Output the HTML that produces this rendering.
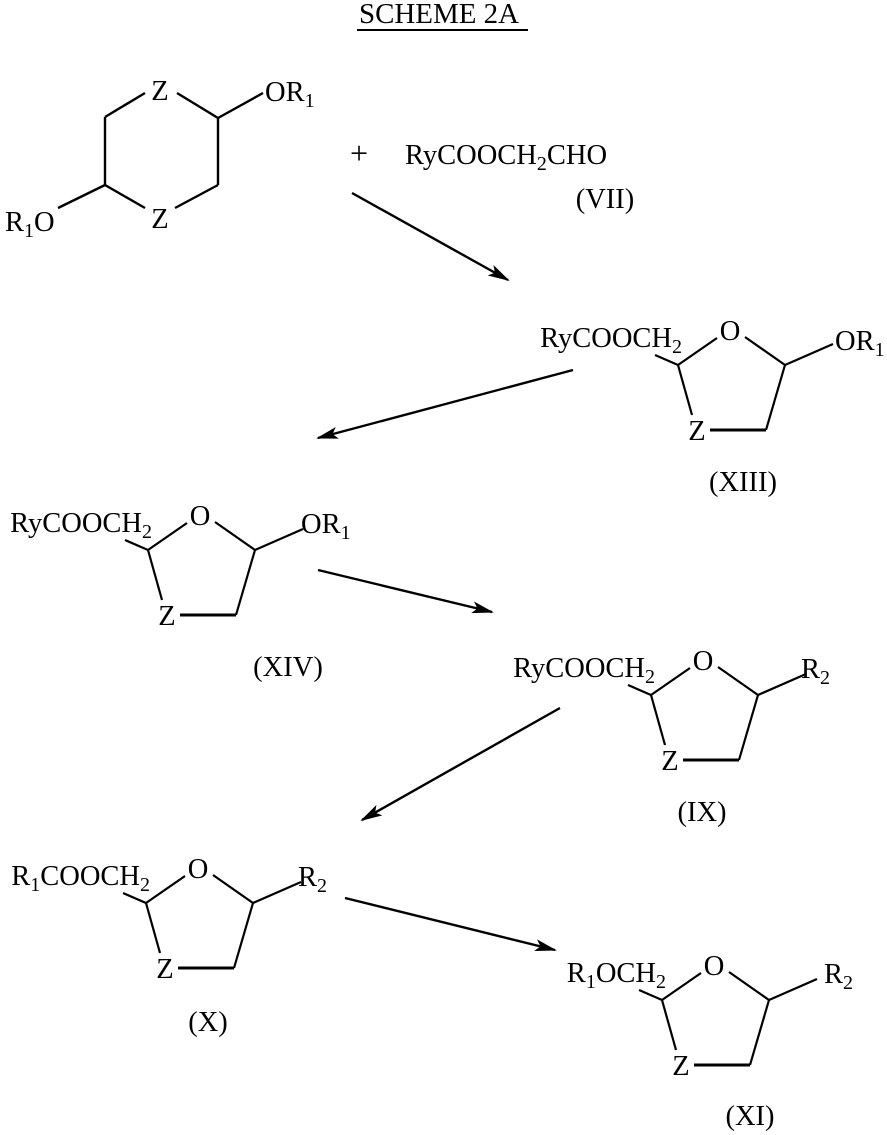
<!DOCTYPE html>
<html><head><style>html,body{margin:0;padding:0;background:#fff;}svg{display:block}</style></head>
<body>
<svg width="887" height="1135" viewBox="0 0 887 1135" xmlns="http://www.w3.org/2000/svg" font-family="Liberation Serif, serif" font-size="28.5" fill="#000">
<defs>
<marker id="ah" markerWidth="22" markerHeight="12" refX="20" refY="6" orient="auto" markerUnits="userSpaceOnUse">
<path d="M0,0 L22,6 L0,12 L5,6 Z" fill="#000"/>
</marker>
<g id="ring" stroke="#000" stroke-width="2.2" fill="none">
<line x1="-23" y1="-10" x2="0" y2="0"/>
<line x1="0" y1="0" x2="39" y2="-27"/>
<line x1="67" y1="-28" x2="107" y2="0"/>
<line x1="107" y1="0" x2="88" y2="65"/>
<line x1="88" y1="65" x2="32" y2="65" stroke-width="3"/>
<line x1="0" y1="0" x2="14" y2="50"/>
<line x1="107" y1="0" x2="155" y2="-21"/>
</g>
</defs>

<text x="359" y="23" textLength="160" lengthAdjust="spacingAndGlyphs">SCHEME 2A</text>
<line x1="357" y1="30" x2="528" y2="30" stroke="#000" stroke-width="2"/>

<g stroke="#000" stroke-width="2.4" fill="none">
<line x1="145" y1="93" x2="105" y2="117"/>
<line x1="105" y1="117" x2="105" y2="185"/>
<line x1="105" y1="185" x2="145" y2="208"/>
<line x1="175" y1="208" x2="218" y2="185"/>
<line x1="218" y1="185" x2="218" y2="118"/>
<line x1="218" y1="118" x2="177" y2="93"/>
<line x1="218" y1="118" x2="263" y2="93"/>
<line x1="105" y1="185" x2="58" y2="208"/>
</g>
<text x="160" y="100" text-anchor="middle">Z</text>
<text x="160" y="228" text-anchor="middle">Z</text>
<text x="265" y="101">OR<tspan font-size="20" dy="6">1</tspan></text>
<text x="5" y="231">R<tspan font-size="20" dy="6">1</tspan><tspan dy="-6">O</tspan></text>

<text x="350" y="164" font-size="32">+</text>
<text x="405" y="164">RyCOOCH<tspan font-size="20" dy="6">2</tspan><tspan dy="-6">CHO</tspan></text>
<text x="605" y="208" text-anchor="middle">(VII)</text>

<g stroke="#000" stroke-width="2.4" marker-end="url(#ah)">
<line x1="352" y1="193" x2="508" y2="280"/>
<line x1="573" y1="370" x2="318" y2="438"/>
<line x1="318" y1="570" x2="492" y2="612"/>
<line x1="560" y1="708" x2="362" y2="820"/>
<line x1="345" y1="898" x2="555" y2="950"/>
</g>

<g transform="translate(678,365)">
<use href="#ring"/>
<text x="52" y="-25" text-anchor="middle">O</text>
<text x="19" y="75" text-anchor="middle">Z</text>
<text x="4" y="-18" text-anchor="end">RyCOOCH<tspan font-size="20" dy="6">2</tspan></text>
<text x="157" y="-15">OR<tspan font-size="20" dy="6">1</tspan></text>
</g>
<text x="743" y="491" text-anchor="middle">(XIII)</text>

<g transform="translate(148,550)">
<use href="#ring"/>
<text x="52" y="-25" text-anchor="middle">O</text>
<text x="19" y="75" text-anchor="middle">Z</text>
<text x="4" y="-18" text-anchor="end">RyCOOCH<tspan font-size="20" dy="6">2</tspan></text>
<text x="153" y="-17">OR<tspan font-size="20" dy="6">1</tspan></text>
</g>
<text x="288" y="676" text-anchor="middle">(XIV)</text>

<g transform="translate(651,695)">
<use href="#ring"/>
<text x="52" y="-25" text-anchor="middle">O</text>
<text x="19" y="75" text-anchor="middle">Z</text>
<text x="4" y="-18" text-anchor="end">RyCOOCH<tspan font-size="20" dy="6">2</tspan></text>
<text x="150" y="-17">R<tspan font-size="20" dy="6">2</tspan></text>
</g>
<text x="702" y="821" text-anchor="middle">(IX)</text>

<g transform="translate(146,903)">
<use href="#ring"/>
<text x="52" y="-25" text-anchor="middle">O</text>
<text x="19" y="75" text-anchor="middle">Z</text>
<text x="4" y="-18" text-anchor="end">R<tspan font-size="20" dy="6">1</tspan><tspan dy="-6">COOCH</tspan><tspan font-size="20" dy="6">2</tspan></text>
<text x="152" y="-17">R<tspan font-size="20" dy="6">2</tspan></text>
</g>
<text x="208" y="1031" text-anchor="middle">(X)</text>

<g transform="translate(662,1000)">
<use href="#ring"/>
<text x="52" y="-25" text-anchor="middle">O</text>
<text x="19" y="75" text-anchor="middle">Z</text>
<text x="4" y="-18" text-anchor="end">R<tspan font-size="20" dy="6">1</tspan><tspan dy="-6">OCH</tspan><tspan font-size="20" dy="6">2</tspan></text>
<text x="162" y="-17">R<tspan font-size="20" dy="6">2</tspan></text>
</g>
<text x="750" y="1125" text-anchor="middle">(XI)</text>
</svg>
</body></html>
